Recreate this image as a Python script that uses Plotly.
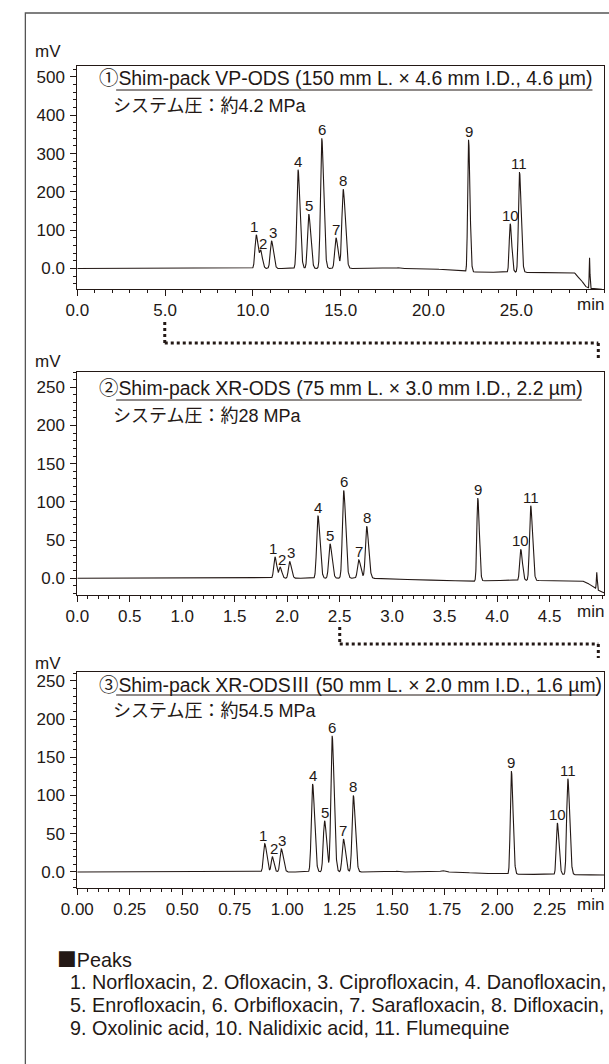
import numpy as np
import plotly.graph_objects as go

W, H = 609, 1064
FONT = "Liberation Sans, Arial, Noto Sans CJK JP, sans-serif"
INK = "#231815"

# ---------------- data ----------------
PEAK_IDS = ["1", "2", "3", "4", "5", "6", "7", "8", "9", "10", "11"]

# panel 1 : Shim-pack VP-ODS
P1_TIMES = [10.19, 10.45, 11.06, 12.57, 13.18, 13.92, 14.73, 15.14, 22.28, 24.65, 25.18]
P1_TOPS = [88, 42, 72, 258, 142, 340, 80, 207, 336, 117, 252]
P1_SIGMA = [0.07, 0.06, 0.07, 0.07, 0.07, 0.07, 0.07, 0.075, 0.05, 0.055, 0.06]
P1_BASE_T = [0, 18.1, 18.25, 18.4, 19.8, 21.0, 22.1, 22.6, 24.3, 25.5, 28.3, 28.45, 28.7, 28.9, 29.05, 29.4, 30.0]
P1_BASE_Y = [0, 0, 2, 0, 0, -3, -8, -9, -10, -10, -10, -20, -30, -45, -50, -53, -55]
P1_SPIKE = (29.17, 28, 0.02)

# panel 2 : Shim-pack XR-ODS
P2_TIMES = [1.883, 1.933, 2.023, 2.293, 2.408, 2.538, 2.682, 2.757, 3.816, 4.225, 4.32]
P2_TOPS = [28, 14, 22, 82, 45, 115, 24, 68, 105, 38, 95]
P2_SIGMA = [0.011, 0.01, 0.011, 0.012, 0.012, 0.012, 0.012, 0.012, 0.009, 0.01, 0.011]
P2_BASE_T = [0, 2.8, 3.0, 3.8, 3.9, 4.8, 4.86, 4.91, 4.97, 5.02]
P2_BASE_Y = [0, 0, -1, -4, -3, -3, -6, -11, -16, -19]
P2_SPIKE = (4.95, 8, 0.004)

# panel 3 : Shim-pack XR-ODSIII
P3_TIMES = [0.893, 0.929, 0.972, 1.121, 1.178, 1.214, 1.268, 1.315, 2.068, 2.287, 2.337]
P3_TOPS = [37, 20, 30, 115, 67, 178, 43, 100, 132, 64, 122]
P3_SIGMA = [0.006, 0.005, 0.006, 0.006, 0.006, 0.006, 0.006, 0.006, 0.005, 0.005, 0.0055]
P3_BASE_T = [0, 1.5, 1.52, 1.54, 1.72, 1.74, 1.76, 1.78, 2.05, 2.1, 2.51]
P3_BASE_Y = [0, 0, 1, 0, 0, 2, 0, 0, -3, -3, -4]

TITLES = [
    "①Shim-pack VP-ODS (150 mm L. × 4.6 mm I.D., 4.6 µm)",
    "②Shim-pack XR-ODS (75 mm L. × 3.0 mm I.D., 2.2 µm)",
    "③Shim-pack XR-ODS<span style='font-family:Noto Sans CJK JP'>Ⅲ</span> (50 mm L. × 2.0 mm I.D., 1.6 µm)",
]
PRESSURES = ["システム圧：約4.2 MPa", "システム圧：約28 MPa", "システム圧：約54.5 MPa"]

X_TICKS = [
    ([0, 5, 10, 15, 20, 25], ["0.0", "5.0", "10.0", "15.0", "20.0", "25.0"]),
    ([0, 0.5, 1, 1.5, 2, 2.5, 3, 3.5, 4, 4.5], ["0.0", "0.5", "1.0", "1.5", "2.0", "2.5", "3.0", "3.5", "4.0", "4.5"]),
    ([0, 0.25, 0.5, 0.75, 1, 1.25, 1.5, 1.75, 2, 2.25],
     ["0.00", "0.25", "0.50", "0.75", "1.00", "1.25", "1.50", "1.75", "2.00", "2.25"]),
]
Y_TICKS = [
    ([0, 100, 200, 300, 400, 500], ["0.0", "100", "200", "300", "400", "500"]),
    ([0, 50, 100, 150, 200, 250], ["0.0", "50", "100", "150", "200", "250"]),
    ([0, 50, 100, 150, 200, 250], ["0.0", "50", "100", "150", "200", "250"]),
]
PEAK_NAMES = [
    "1. Norfloxacin, 2. Ofloxacin, 3. Ciprofloxacin, 4. Danofloxacin,",
    "5. Enrofloxacin, 6. Orbifloxacin, 7. Sarafloxacin, 8. Difloxacin,",
    "9. Oxolinic acid, 10. Nalidixic acid, 11. Flumequine",
]

# ---------------- layout (page pixels) ----------------
BOX_X0, BOX_X1 = 62, 604
PANELS = [
    dict(top=66, bottom=289, yr=[-53.5, 528.7], xr=[0, 30.0], xminor=1.0, yminor=20,
         title_y=78, mv_y=51, ul_x1=592),
    dict(top=372, bottom=595, yr=[-21.9, 270.0], xr=[0, 5.02], xminor=0.1, yminor=10,
         title_y=388, mv_y=361, ul_x1=581),
    dict(top=672, bottom=888, yr=[-21.0, 261.5], xr=[0, 2.51], xminor=0.05, yminor=10,
         title_y=683, mv_y=663, ul_x1=597),
]
TITLE_SIZE = 19.4
LABEL_XSHIFT = [-2, 2, 1, 0, 0, 0, 0, 0, 0, 0, 0]
CONNECTORS = [(152, 322, 343, 358), (332, 627, 644, 658)]


def px(x):
    return x / W


def py(y):
    return 1 - y / H


def trace_from(times, tops, sigmas, bt, by, xr, spike=None, tail=1.6):
    t = np.linspace(xr[0], xr[1], 6000)
    base = np.interp(t, bt, by)
    sig = base.copy()
    for tc, top, s in zip(times, tops, sigmas):
        amp = top - np.interp(tc, bt, by)
        sd = np.where(t < tc, s, s * tail)
        sig += amp * np.exp(-0.5 * ((t - tc) / sd) ** 2)
    if spike is not None:
        tc, top, s = spike
        amp = top - np.interp(tc, bt, by)
        sig += amp * np.exp(-0.5 * ((t - tc) / s) ** 2)
    return t, sig


def note(x, y, text, size, xanchor="left", **kw):
    return dict(x=px(x), y=py(y), xref="paper", yref="paper", text=text, showarrow=False,
                xanchor=xanchor, yanchor="middle", borderpad=0,
                font=dict(family=FONT, size=size, color=INK), **kw)


fig = go.Figure()
series = [
    (P1_TIMES, P1_TOPS, P1_SIGMA, P1_BASE_T, P1_BASE_Y, P1_SPIKE),
    (P2_TIMES, P2_TOPS, P2_SIGMA, P2_BASE_T, P2_BASE_Y, P2_SPIKE),
    (P3_TIMES, P3_TOPS, P3_SIGMA, P3_BASE_T, P3_BASE_Y, None),
]

annotations = []
shapes = []
for i, (p, (tt, tops, sg, bt, by, sp)) in enumerate(zip(PANELS, series)):
    n = "" if i == 0 else str(i + 1)
    xa, ya = "x" + n, "y" + n
    t, s = trace_from(tt, tops, sg, bt, by, p["xr"], sp)
    fig.add_trace(go.Scatter(x=t, y=s, mode="lines", line=dict(color=INK, width=1.1),
                             xaxis=xa, yaxis=ya, showlegend=False, hoverinfo="skip"))
    common = dict(showline=True, linecolor=INK, linewidth=1, mirror=True, ticks="outside",
                  ticklen=6, tickwidth=1, tickcolor=INK, showgrid=False, zeroline=False,
                  tickfont=dict(family=FONT, size=17, color=INK))
    fig.layout["xaxis" + n] = dict(
        domain=[px(BOX_X0), px(BOX_X1)], range=p["xr"], anchor=ya,
        tickvals=X_TICKS[i][0], ticktext=X_TICKS[i][1],
        minor=dict(dtick=p["xminor"], ticks="outside", ticklen=3, tickcolor=INK, tickwidth=1),
        **common)
    fig.layout["yaxis" + n] = dict(
        domain=[py(p["bottom"]), py(p["top"])], range=p["yr"], anchor=xa,
        tickvals=Y_TICKS[i][0], ticktext=Y_TICKS[i][1], ticklabelstandoff=2,
        minor=dict(dtick=p["yminor"], ticks="outside", ticklen=3, tickcolor=INK, tickwidth=1),
        **common)
    # peak numbers
    for pid, tc, top, xs in zip(PEAK_IDS, tt, tops, LABEL_XSHIFT):
        annotations.append(dict(x=tc, y=top, xref=xa, yref=ya, text=pid, showarrow=False,
                                xanchor="center", yanchor="bottom", yshift=-1, xshift=xs,
                                borderpad=0, font=dict(family=FONT, size=15, color=INK)))
    # axis units
    annotations.append(note(32, p["mv_y"], "mV", 17, xanchor="center"))
    annotations.append(note(BOX_X1 + 1, p["bottom"] + 16, "min", 17, xanchor="right",
                            bgcolor="white"))
    # titles
    ty = p["title_y"]
    annotations.append(note(83, ty, TITLES[i], TITLE_SIZE))
    annotations.append(note(98, ty + 28, PRESSURES[i], 18))
    shapes.append(dict(type="line", xref="paper", yref="paper", x0=px(102), x1=px(p["ul_x1"]),
                       y0=py(ty + 12), y1=py(ty + 12), line=dict(color=INK, width=1)))

# dotted connectors
dot = dict(color=INK, width=3, dash="3px,3px")
for (xa_, y0, ymid, y1) in CONNECTORS:
    shapes.append(dict(type="line", xref="paper", yref="paper", x0=px(xa_), x1=px(xa_),
                       y0=py(y0), y1=py(ymid), line=dot))
    shapes.append(dict(type="line", xref="paper", yref="paper", x0=px(xa_), x1=px(598),
                       y0=py(ymid), y1=py(ymid), line=dot))
    shapes.append(dict(type="line", xref="paper", yref="paper", x0=px(598), x1=px(598),
                       y0=py(ymid), y1=py(y1), line=dot))

# outer frame (continues past the right and bottom edges)
shapes.append(dict(type="rect", xref="paper", yref="paper", x0=px(8.6), x1=px(640),
                   y0=py(1100), y1=py(13), line=dict(color="#555555", width=1.3)))

# peaks legend
annotations.append(note(40, 958, "<span style='font-family:Noto Sans CJK JP'>■</span>Peaks", 19.8))
for k, line in enumerate(PEAK_NAMES):
    annotations.append(note(53, 982 + 23 * k, line, 19.8))

fig.update_layout(width=W, height=H, margin=dict(l=0, r=0, t=0, b=0),
                  paper_bgcolor="white", plot_bgcolor="white",
                  annotations=annotations, shapes=shapes, showlegend=False)
fig.write_html(
    "out.html",
    config={"displayModeBar": False, "staticPlot": True},
    post_script="document.documentElement.style.overflow='hidden';"
                "document.body.style.margin='0';document.body.style.overflow='hidden';",
)
